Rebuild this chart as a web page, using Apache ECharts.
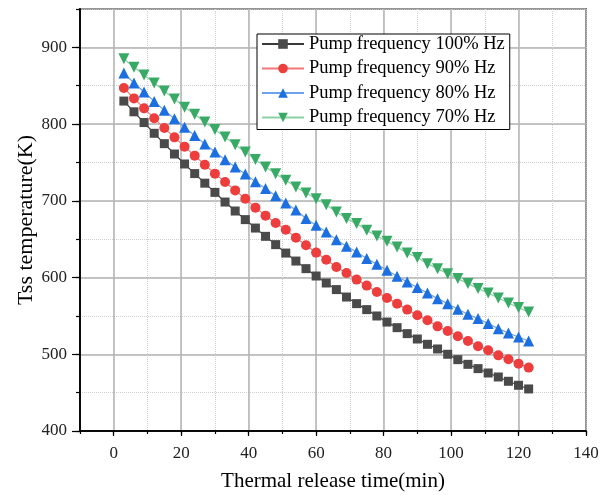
<!DOCTYPE html>
<html><head><meta charset="utf-8">
<script src="https://cdn.jsdelivr.net/npm/echarts@6/dist/echarts.min.js"></script>
<style>html,body{margin:0;padding:0;background:#fff}#c{width:611px;height:495px}</style>
</head><body><div id="c"></div>
<script>
var times = [3,6,9,12,15,18,21,24,27,30,33,36,39,42,45,48,51,54,57,60,63,66,69,72,75,78,81,84,87,90,93,96,99,102,105,108,111,114,117,120,123];
var seriesNames = ['Pump frequency 100% Hz','Pump frequency 90% Hz','Pump frequency 80% Hz','Pump frequency 70% Hz'];
var tss100 = [830,816,802,788,774.5,761,748,735.5,723,711,698.4,686.7,675.5,664.5,653.7,642.9,631.9,621.5,611.6,602,592.9,584.3,574.6,566,558.2,549.9,542,534.7,526.9,519.9,513,506.9,500,493,486.9,481.3,475.6,470.4,464.8,459.6,454.8];
var tss90 = [847,833.5,820.5,807.5,794.8,782.7,770.6,758.9,747.1,735.4,724.5,713.6,702.8,691.1,680.7,671,662.4,652,642,632.5,623.3,613.7,605.9,597.3,589.5,581.1,573.3,566,558.2,550.8,544.3,536.4,530.3,523.4,517.3,510.4,505.2,498.6,493.4,487.8,482.6];
var tss80 = [866.5,853.5,841.8,829.6,817.9,807,795.8,785,774,763.6,753.5,744,735,725,716,706.5,697,688,677,668,659.3,649.4,640.7,633.3,624.7,617.2,609.4,601.6,594.2,586.9,579.8,572.5,566,558.6,552.1,546.5,540,533.4,527.7,522.5,517.3];
var tss70 = [885,874,864,853.5,843,832.6,822,812.7,802.7,792.8,783.1,773.2,763.6,753.7,744,735.4,726.7,718,710.1,702.8,695,685.4,676.8,670.3,661.5,654.1,647.2,639.8,632,626,618.1,611.6,605.1,598.6,592.1,585.6,579.8,573.3,566.8,560.8,555.1];
var xTitle = 'Thermal release time(min)';
var yTitle = 'Tss temperature(K)';

function pairs(ys){ return times.map(function(t,i){ return [t, ys[i]]; }); }
var FONT = '"Liberation Serif","Times New Roman",serif';
var chart = echarts.init(document.getElementById('c'), null, {renderer:'canvas'});
var markerColors = ['#4a4a4a','#ee3d3d','#1c6fe0','#38aa66'];
var lineColors = ['#3a3a3a','#f27777','#6ea2ec','#8ad2a4'];
var symbols = ['rect','circle','triangle','triangle'];
var rotates = [0,0,0,180];
var sizes = [9,10,11,11];
var data = [tss100, tss90, tss80, tss70];

var series = data.map(function(d,i){
  return {
    name: seriesNames[i], type:'line', xAxisIndex:1, yAxisIndex:1,
    data: pairs(d), symbol: symbols[i], symbolRotate: rotates[i], symbolSize: sizes[i],
    showAllSymbol: true,
    itemStyle:{color: markerColors[i]},
    lineStyle:{color: lineColors[i], width:1.2},
    emphasis:{disabled:true}, animation:false, z: 3+i
  };
});

var axisLine = {show:true, onZero:false, lineStyle:{color:'#000', width:1.5}};
chart.setOption({
  animation:false,
  backgroundColor:'#fff',
  grid:{left:80, right:25, top:9, bottom:64, containLabel:false, outerBoundsMode:'none',
        show:true, borderColor:'#000', borderWidth:1.5, backgroundColor:'transparent'},
  legend:{
    left:257, top:34, orient:'vertical', itemWidth:42, itemHeight:12, itemGap:4.5,
    padding:[0,5,2,4], borderColor:'#000', borderWidth:1, backgroundColor:'#fff',
    textStyle:{fontFamily:FONT, fontSize:18.5, color:'#000', lineHeight:20},
    data: seriesNames
  },
  xAxis:[
    {type:'value', min:-10, max:140, interval:10, position:'bottom',
     axisLine:axisLine, axisTick:{show:true, length:3, inside:false, lineStyle:{color:'#000', width:1.2}},
     axisLabel:{show:false}, splitLine:{show:true, lineStyle:{color:'#cfcfcf', type:'dotted', width:1}}},
    {type:'value', min:-10, max:140, splitNumber:7, position:'bottom',
     name:xTitle, nameLocation:'middle', nameGap:40, nameMoveOverlap:false,
     nameTextStyle:{fontFamily:FONT, fontSize:21, color:'#000'},
     axisLine:axisLine, axisTick:{show:true, length:5, lineStyle:{color:'#000', width:1.2}},
     axisLabel:{showMinLabel:false, margin:14, fontFamily:FONT, fontSize:17, color:'#222',
       formatter:function(v){ return Math.abs(v)<1e-9 ? '0' : String(Math.round(v)); }},
     splitLine:{show:true, lineStyle:{color:'#b3b3b3', width:1.5}}}
  ],
  yAxis:[
    {type:'value', min:400, max:950, interval:50, position:'left',
     axisLine:axisLine, axisTick:{show:true, length:4, lineStyle:{color:'#000', width:1.2}},
     axisLabel:{show:false}, splitLine:{show:true, lineStyle:{color:'#cfcfcf', type:'dotted', width:1}}},
    {type:'value', min:400, max:950, interval:100, position:'left',
     name:yTitle, nameLocation:'middle', nameGap:43, nameRotate:90, nameMoveOverlap:false,
     nameTextStyle:{fontFamily:FONT, fontSize:22, color:'#000'},
     axisLine:axisLine, axisTick:{show:true, length:8, lineStyle:{color:'#000', width:1.2}},
     axisLabel:{showMaxLabel:false, margin:13, fontFamily:FONT, fontSize:17, color:'#222'},
     splitLine:{show:true, lineStyle:{color:'#b3b3b3', width:1.5}}}
  ],
  series: series
});
</script></body></html>
